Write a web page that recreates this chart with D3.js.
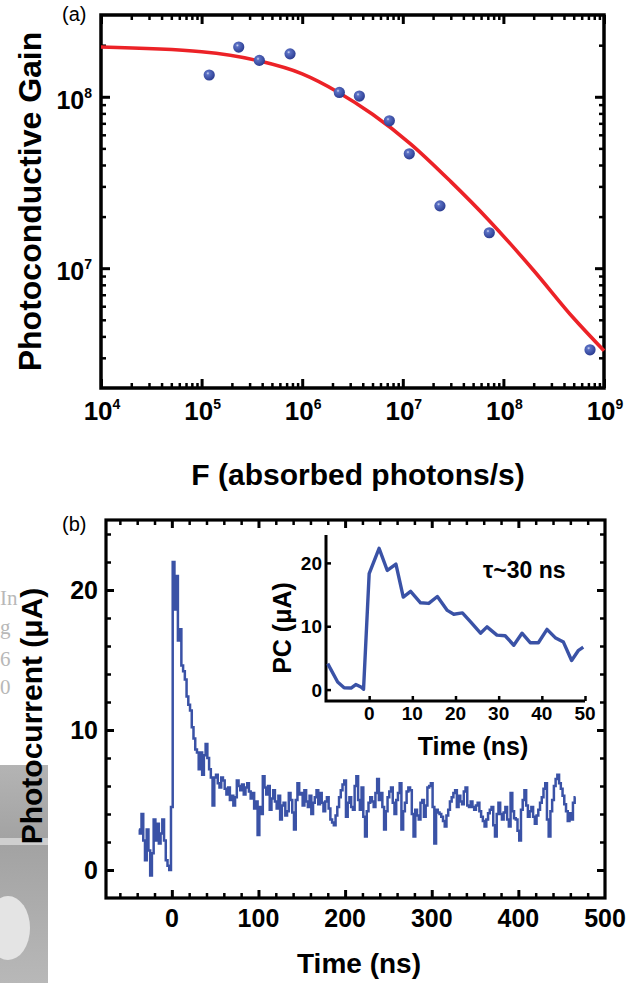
<!DOCTYPE html>
<html>
<head>
<meta charset="utf-8">
<script src="https://cdn.jsdelivr.net/npm/d3@7"></script>
<style>
  body { margin: 0; background: #fff; }
  svg { display: block; font-family: "Liberation Sans", Arial, sans-serif; }
</style>
</head>
<body>
<div id="chart"></div>
<script>

// ---------- panel (a): gain vs absorbed photon flux
const fluxMeasured = [1.19e5, 2.34e5, 3.75e5, 7.57e5, 2.34e6, 3.7e6, 7.35e6, 1.16e7, 2.34e7, 7.24e7, 7.26e8];
const gainMeasured = [1.34e8, 1.95e8, 1.63e8, 1.78e8, 1.06e8, 1.01e8, 7.24e7, 4.65e7, 2.31e7, 1.61e7, 3.34e6];

// red fit line
const fluxFit = [1e4, 1e5, 3.7e5, 1e6, 2.3e6, 5e6, 1.2e7, 3e7, 7.2e7, 2e8, 5e8, 1e9];
const gainFit = [1.95e8, 1.83e8, 1.62e8, 1.36e8, 1.06e8, 7.9e7, 5.3e7, 3.2e7, 1.9e7, 9.7e6, 5.1e6, 3.3e6];

const fluxDecades = [4, 5, 6, 7, 8, 9];
const gainDecades = [7, 8];

// ---------- panel (b): photocurrent transient, sampled every 2 ns from -38 ns
const pcStart = -38, pcStep = 2;
const pcValues = [
    // before the pulse
    2.9, 2.6, 4.0, 2.1, 0.7, 2.9, 1.4, -0.4, 1.2, 3.6, 2.1, 3.3, 1.9, 2.6, 3.6, 2.1, 0.7, 0.3, 0.0,
    // pulse and decay (0..50 ns)
    4.5, 22.0, 18.6, 21.0, 16.4, 17.2, 14.6, 14.2, 13.6, 12.4, 11.8, 11.4, 10.2, 9.4, 8.6, 8.4,
    7.2, 8.4, 6.8, 8.2, 9.0, 8.0, 7.2, 6.6, 4.6, 6.6,
    // 52..170 ns
    6.8, 6.2, 5.9, 6.6, 6.4, 5.8, 5.4, 5.9, 5.0, 5.3,
    4.6, 5.2, 6.4, 6.0, 5.7, 6.1, 5.4, 5.9, 6.2, 5.6,
    5.1, 5.5, 4.4, 4.9, 2.5, 4.5, 4.0, 6.7, 5.9, 5.4,
    6.0, 4.3, 5.1, 5.7, 4.9, 4.4, 5.3, 3.6, 4.6, 4.8,
    3.9, 4.2, 5.5, 5.0, 4.1, 2.9, 5.0, 6.2, 5.4, 5.5,
    4.6, 5.7, 4.9, 4.5, 5.3, 4.0, 4.8, 5.2, 5.7, 4.7,
    // 172..466 ns
    5.5, 4.8, 4.2, 4.9, 5.2, 4.4, 3.6, 3.4, 3.2, 3.9,
    4.5, 5.2, 5.7, 6.1, 6.4, 3.8, 4.8, 5.2, 4.5, 4.3,
    6.0, 6.7, 5.0, 4.3, 5.9, 3.8, 2.4, 4.2, 4.8, 5.2,
    4.9, 4.5, 5.5, 6.5, 5.0, 5.5, 4.5, 2.9, 4.2, 5.2,
    5.6, 5.9, 4.8, 4.0, 5.0, 5.5, 6.2, 2.9, 4.2, 4.8,
    5.6, 5.9, 5.7, 4.0, 2.4, 4.3, 3.9, 3.6, 4.8, 5.0,
    3.8, 4.6, 5.9, 6.0, 6.2, 4.5, 1.9, 4.3, 4.1, 4.0,
    3.8, 3.5, 3.1, 3.9, 4.3, 4.9, 5.2, 5.5, 5.7, 4.5,
    5.3, 4.9, 4.7, 5.6, 5.9, 4.6, 4.5, 4.9, 4.5, 4.3,
    4.6, 4.8, 4.2, 3.8, 3.5, 3.1, 3.6, 4.05, 4.3, 4.5,
    3.2, 2.4, 4.0, 4.8, 4.0, 3.6, 4.1, 4.5, 3.6, 3.1,
    5.5, 4.2, 3.7, 3.6, 2.8, 2.1, 4.3, 5.0, 5.7, 4.6,
    3.8, 4.2, 4.5, 3.8, 3.3, 3.9, 4.3, 4.8, 5.2, 5.8,
    6.2, 3.6, 2.4, 4.2, 5.0, 6.0, 6.5, 6.8, 6.2, 5.8,
    5.3, 4.7, 4.2, 3.5, 4.05, 3.6, 4.8, 5.2
];

// inset: first 50 ns
const insetTime = [-9.6, -7.3, -5.8, -4.2, -3.1, -1.9, -1.3, 0.0, 2.3, 4.2, 6.2, 7.9, 9.6, 11.9, 13.8, 15.8,
    18.1, 19.6, 21.6, 23.5, 25.8, 27.3, 29.6, 31.5, 33.5, 35.4, 37.3, 39.2, 41.2, 43.1, 45.0, 46.9, 48.5, 49.6];
const insetPC = [4.1, 1.2, 0.3, 0.25, 0.8, 0.4, 0.05, 18.3, 22.3, 18.8, 19.8, 14.6, 15.5, 13.7, 13.6, 14.7,
    12.5, 11.9, 12.1, 10.7, 8.9, 9.9, 8.6, 8.5, 7.0, 8.9, 7.4, 7.4, 9.5, 8.2, 7.5, 4.6, 6.2, 6.7];

const mainTicksB = [0, 100, 200, 300, 400, 500];
const yTicksB = [0, 10, 20];
const insetXTicks = [0, 10, 20, 30, 40, 50];
const insetYTicks = [0, 10, 20];

////////////////////////////////////////////////////

const W = 638, H = 983;
const blue = "#3a52a6";

let svg = d3.select("#chart").append("svg")
    .attr("width", W)
    .attr("height", H);

let defs = svg.append("defs");
let ball = defs.append("radialGradient").attr("id", "ball")
    .attr("cx", "38%").attr("cy", "35%").attr("r", "65%");
ball.append("stop").attr("offset", "0%").attr("stop-color", "#d4dbf4");
ball.append("stop").attr("offset", "22%").attr("stop-color", "#5a70c4");
ball.append("stop").attr("offset", "100%").attr("stop-color", "#2c3d92");

let scan = defs.append("linearGradient").attr("id", "scan")
    .attr("x1", 0).attr("y1", 0).attr("x2", 0).attr("y2", 1);
scan.append("stop").attr("offset", "0%").attr("stop-color", "#b4b4b4");
scan.append("stop").attr("offset", "35%").attr("stop-color", "#a2a2a2");
scan.append("stop").attr("offset", "100%").attr("stop-color", "#b8b8b8");

// inward ticks with d3 axes, domain lines removed (frame drawn as rect)
function tickAxis(g, axis, len, width) {
    g.call(axis.tickSize(-len).tickFormat(""))
    g.select(".domain").remove()
    g.selectAll("line").attr("stroke", "#000").attr("stroke-width", width)
}

// scan remnants at the left edge of the page
svg.append("rect")
    .attr("x", 0).attr("y", 765).attr("width", 48).attr("height", 218)
    .attr("fill", "url(#scan)");
svg.append("rect")
    .attr("x", 0).attr("y", 838).attr("width", 48).attr("height", 7)
    .attr("fill", "#cfcfcf");
svg.append("ellipse")
    .attr("cx", 8).attr("cy", 928).attr("rx", 22).attr("ry", 32)
    .attr("fill", "#e4e4e4");
const ghost = [["In", 605], ["g", 634], ["6", 666], ["0", 694]];
svg.selectAll(".ghost").data(ghost).join("text")
    .attr("class", "ghost")
    .attr("x", 0).attr("y", d => d[1])
    .attr("font-family", "Liberation Serif, serif")
    .attr("font-size", 21)
    .attr("fill", "#b8b8b8")
    .text(d => d[0]);

//////////////////////////////////////////////////// panel (a)

const a = { left: 101, right: 604, top: 15, bottom: 388 };

let xA = d3.scaleLog().domain([1e4, 1e9]).range([a.left, a.right]);
let yA = d3.scaleLog().domain([2e6, 3e8]).range([a.bottom, a.top]);

let xMajorA = fluxDecades.map(d => Math.pow(10, d));
let xMinorA = [];
fluxDecades.slice(0, -1).forEach(d => {
    for (let k = 2; k <= 9; k++) xMinorA.push(k * Math.pow(10, d));
});
let yMajorA = gainDecades.map(d => Math.pow(10, d));
let yMinorA = [];
[6, 7, 8].forEach(d => {
    for (let k = 2; k <= 9; k++) {
        let v = k * Math.pow(10, d);
        if (v > 2e6 && v < 3e8) yMinorA.push(v);
    }
});

let gA = svg.append("g");

tickAxis(gA.append("g").attr("transform", `translate(0,${a.bottom})`), d3.axisBottom(xA).tickValues(xMajorA), 9, 3);
tickAxis(gA.append("g").attr("transform", `translate(0,${a.bottom})`), d3.axisBottom(xA).tickValues(xMinorA), 5, 2.5);
tickAxis(gA.append("g").attr("transform", `translate(0,${a.top})`), d3.axisTop(xA).tickValues(xMajorA), 9, 3);
tickAxis(gA.append("g").attr("transform", `translate(0,${a.top})`), d3.axisTop(xA).tickValues(xMinorA), 5, 2.5);
tickAxis(gA.append("g").attr("transform", `translate(${a.left},0)`), d3.axisLeft(yA).tickValues(yMajorA), 9, 3);
tickAxis(gA.append("g").attr("transform", `translate(${a.left},0)`), d3.axisLeft(yA).tickValues(yMinorA), 5, 2.5);
tickAxis(gA.append("g").attr("transform", `translate(${a.right},0)`), d3.axisRight(yA).tickValues(yMajorA), 9, 3);
tickAxis(gA.append("g").attr("transform", `translate(${a.right},0)`), d3.axisRight(yA).tickValues(yMinorA), 5, 2.5);

gA.append("rect")
    .attr("x", a.left).attr("y", a.top)
    .attr("width", a.right - a.left).attr("height", a.bottom - a.top)
    .attr("fill", "none").attr("stroke", "#000").attr("stroke-width", 3.5);

// fit
let fitLine = d3.line()
    .x(d => xA(d[0]))
    .y(d => yA(d[1]))
    .curve(d3.curveMonotoneX);
gA.append("path")
    .datum(d3.zip(fluxFit, gainFit))
    .attr("fill", "none")
    .attr("stroke", "#ec2227")
    .attr("stroke-width", 3.6)
    .attr("d", fitLine);

// measured points
gA.selectAll(".dot").data(d3.zip(fluxMeasured, gainMeasured)).join("circle")
    .attr("class", "dot")
    .attr("cx", d => xA(d[0]))
    .attr("cy", d => yA(d[1]))
    .attr("r", 5.6)
    .attr("fill", "url(#ball)");

// power-of-ten labels
let xLabA = gA.selectAll(".xlab").data(fluxDecades).join("text")
    .attr("class", "xlab")
    .attr("x", d => xA(Math.pow(10, d)) + 1)
    .attr("y", 420)
    .attr("text-anchor", "middle")
    .attr("font-weight", "bold")
    .attr("font-size", 26);
xLabA.append("tspan").text("10");
xLabA.append("tspan").attr("dy", -11).attr("font-size", 14).text(d => d);

let yLabA = gA.selectAll(".ylab").data(gainDecades).join("text")
    .attr("class", "ylab")
    .attr("x", 92)
    .attr("y", d => yA(Math.pow(10, d)) + 12)
    .attr("text-anchor", "end")
    .attr("font-weight", "bold")
    .attr("font-size", 25);
yLabA.append("tspan").text("10");
yLabA.append("tspan").attr("dy", -11).attr("font-size", 14).text(d => d);

gA.append("text")
    .attr("x", 358).attr("y", 485)
    .attr("text-anchor", "middle")
    .attr("font-weight", "bold").attr("font-size", 30)
    .text("F (absorbed photons/s)");

gA.append("text")
    .attr("transform", `translate(41,${(a.top + a.bottom) / 2}) rotate(-90)`)
    .attr("text-anchor", "middle")
    .attr("font-weight", "bold").attr("font-size", 32)
    .text("Photoconductive Gain");

gA.append("text")
    .attr("x", 62).attr("y", 21)
    .attr("font-size", 20)
    .text("(a)");

//////////////////////////////////////////////////// panel (b)

const b = { left: 106, right: 605, top: 520, bottom: 898 };

let xB = d3.scaleLinear().domain([-76, 500]).range([b.left, b.right]);
let yB = d3.scaleLinear().domain([-2, 25]).range([b.bottom, b.top]);

let xMinorB = d3.range(-60, 500, 20).filter(d => d % 100 !== 0);
let yMinorB = d3.range(2, 25, 2).filter(d => d % 10 !== 0);

let gB = svg.append("g");

tickAxis(gB.append("g").attr("transform", `translate(0,${b.bottom})`), d3.axisBottom(xB).tickValues(mainTicksB.slice(0, -1)), 8, 3);
tickAxis(gB.append("g").attr("transform", `translate(0,${b.bottom})`), d3.axisBottom(xB).tickValues(xMinorB), 5, 2.5);
tickAxis(gB.append("g").attr("transform", `translate(0,${b.top})`), d3.axisTop(xB).tickValues(mainTicksB.slice(0, -1)), 8, 3);
tickAxis(gB.append("g").attr("transform", `translate(0,${b.top})`), d3.axisTop(xB).tickValues(xMinorB), 5, 2.5);
tickAxis(gB.append("g").attr("transform", `translate(${b.left},0)`), d3.axisLeft(yB).tickValues(yTicksB), 8, 3);
tickAxis(gB.append("g").attr("transform", `translate(${b.left},0)`), d3.axisLeft(yB).tickValues(yMinorB), 5, 2.5);
tickAxis(gB.append("g").attr("transform", `translate(${b.right},0)`), d3.axisRight(yB).tickValues(yTicksB), 8, 3);
tickAxis(gB.append("g").attr("transform", `translate(${b.right},0)`), d3.axisRight(yB).tickValues(yMinorB), 5, 2.5);

gB.append("rect")
    .attr("x", b.left).attr("y", b.top)
    .attr("width", b.right - b.left).attr("height", b.bottom - b.top)
    .attr("fill", "none").attr("stroke", "#000").attr("stroke-width", 3.2);

let pcData = pcValues.map((v, i) => ({ t: pcStart + i * pcStep, v: v }));

// step curve gives the vertical scope-trace strokes
gB.append("path")
    .datum(pcData)
    .attr("fill", "none")
    .attr("stroke", blue)
    .attr("stroke-width", 2.5)
    .attr("d", d3.line().x(d => xB(d.t)).y(d => yB(d.v)).curve(d3.curveStep));

gB.selectAll(".xlabB").data(mainTicksB).join("text")
    .attr("class", "xlabB")
    .attr("x", d => xB(d))
    .attr("y", 927)
    .attr("text-anchor", "middle")
    .attr("font-weight", "bold").attr("font-size", 25)
    .text(d => d);

gB.selectAll(".ylabB").data(yTicksB).join("text")
    .attr("class", "ylabB")
    .attr("x", 98)
    .attr("y", d => yB(d) + 9)
    .attr("text-anchor", "end")
    .attr("font-weight", "bold").attr("font-size", 25)
    .text(d => d);

gB.append("text")
    .attr("x", 359).attr("y", 973)
    .attr("text-anchor", "middle")
    .attr("font-weight", "bold").attr("font-size", 28)
    .text("Time (ns)");

gB.append("text")
    .attr("transform", `translate(42,716) rotate(-90)`)
    .attr("text-anchor", "middle")
    .attr("font-weight", "bold").attr("font-size", 30)
    .text("Photocurrent (\u03bcA)");

gB.append("text")
    .attr("x", 62).attr("y", 531)
    .attr("font-size", 20)
    .text("(b)");

// ---------- inset
const ins = { left: 326, right: 585, top: 535, bottom: 701 };

let xI = d3.scaleLinear().domain([-10, 50]).range([ins.left, ins.right]);
let yI = d3.scaleLinear().domain([-1.8, 24.4]).range([ins.bottom, ins.top]);

let gI = svg.append("g");

tickAxis(gI.append("g").attr("transform", `translate(0,${ins.bottom})`), d3.axisBottom(xI).tickValues(insetXTicks), 5, 2.5);
tickAxis(gI.append("g").attr("transform", `translate(${ins.left},0)`), d3.axisLeft(yI).tickValues(insetYTicks), 5, 2.5);

gI.append("path")
    .attr("d", `M${ins.left},${ins.top}V${ins.bottom}H${ins.right}`)
    .attr("fill", "none").attr("stroke", "#000").attr("stroke-width", 3);

gI.append("path")
    .datum(d3.zip(insetTime, insetPC))
    .attr("fill", "none")
    .attr("stroke", blue)
    .attr("stroke-width", 3.4)
    .attr("stroke-linejoin", "round")
    .attr("d", d3.line().x(d => xI(d[0])).y(d => yI(d[1])));

gI.selectAll(".xlabI").data(insetXTicks).join("text")
    .attr("class", "xlabI")
    .attr("x", d => xI(d))
    .attr("y", 720)
    .attr("text-anchor", "middle")
    .attr("font-weight", "bold").attr("font-size", 19)
    .text(d => d);

gI.selectAll(".ylabI").data(insetYTicks).join("text")
    .attr("class", "ylabI")
    .attr("x", 322)
    .attr("y", d => yI(d) + 7)
    .attr("text-anchor", "end")
    .attr("font-weight", "bold").attr("font-size", 19)
    .text(d => d);

gI.append("text")
    .attr("x", 473).attr("y", 755)
    .attr("text-anchor", "middle")
    .attr("font-weight", "bold").attr("font-size", 25)
    .text("Time (ns)");

gI.append("text")
    .attr("transform", `translate(291,628) rotate(-90)`)
    .attr("text-anchor", "middle")
    .attr("font-weight", "bold").attr("font-size", 25)
    .text("PC (\u03bcA)");

gI.append("text")
    .attr("x", 483).attr("y", 578)
    .attr("font-weight", "bold").attr("font-size", 23)
    .text("\u03c4~30 ns");

</script>
</body>
</html>
